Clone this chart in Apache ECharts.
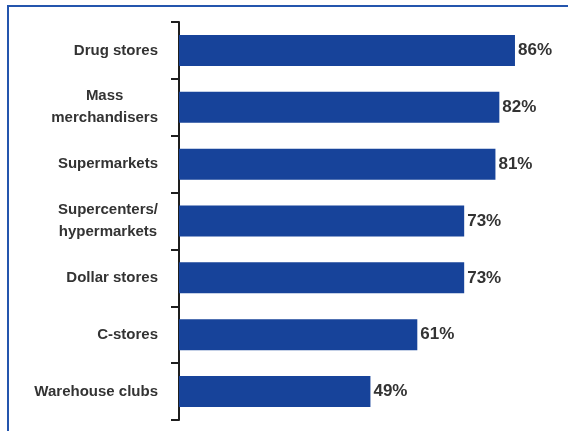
<!DOCTYPE html>
<html>
<head>
<meta charset="utf-8">
<script src="https://cdn.jsdelivr.net/npm/echarts@6/dist/echarts.min.js"></script>
<style>
html,body{margin:0;padding:0;background:#fff;}
#chart{width:568px;height:431px;}
</style>
</head>
<body>
<div id="chart"></div>
<script>
const categories = ['Drug stores', 'Mass\nmerchandisers', 'Supermarkets', 'Supercenters/\nhypermarkets', 'Dollar stores', 'C-stores', 'Warehouse clubs'];
const values = [86, 82, 81, 73, 73, 61, 49];

const chart = echarts.init(document.getElementById('chart'), null, {renderer: 'canvas'});
chart.setOption({
  animation: false,
  backgroundColor: '#fff',
  graphic: [{
    type: 'rect',
    shape: {x: 8, y: 6, width: 700, height: 600},
    style: {fill: 'none', stroke: '#2455ad', lineWidth: 2}
  }],
  grid: {left: 179, top: 22, bottom: 11, right: 37.4, containLabel: false},
  xAxis: {type: 'value', min: 0, max: 90, show: false},
  yAxis: {
    type: 'category',
    data: categories,
    inverse: true,
    boundaryGap: true,
    axisLine: {show: true, lineStyle: {color: '#1e1e1e', width: 2}},
    axisTick: {show: true, alignWithLabel: false, inside: false, length: 8, lineStyle: {color: '#1e1e1e', width: 2}},
    axisLabel: {
      margin: 21,
      formatter: function (v) {
        return v.split('\n').map(function (s) { return '{a|' + s + '}'; }).join('\n');
      },
      rich: {
        a: {align: 'center', fontFamily: 'Liberation Sans, Arial, sans-serif', fontWeight: 'bold', fontSize: 15, color: '#333', lineHeight: 22}
      }
    }
  },
  series: [{
    type: 'bar',
    data: values,
    barWidth: 31,
    itemStyle: {color: '#17439a'},
    label: {
      show: true,
      position: 'right',
      distance: 3,
      formatter: '{c}%',
      fontFamily: 'Liberation Sans, Arial, sans-serif',
      fontWeight: 'bold',
      fontSize: 17,
      color: '#333'
    }
  }]
});
</script>
</body>
</html>
